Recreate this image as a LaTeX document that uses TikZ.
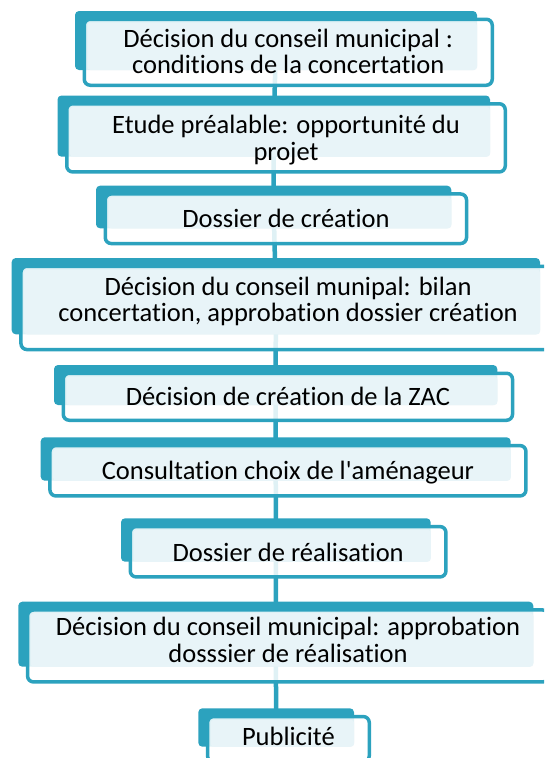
\documentclass[tikz,border=0pt]{standalone}
\usepackage{fontspec}
\setmainfont{Carlito}[Ligatures=CommonOff]
\definecolor{tealA}{RGB}{44,162,190}
\definecolor{lightfill}{RGB}{232,244,248}
\pgfdeclarelayer{bg}
\pgfsetlayers{bg,main}
\tikzset{
  tealrect/.style={rectangle, fill=tealA, draw=none, rounded corners=4pt, inner sep=0pt, outer sep=0pt},
  outlinebox/.style={rectangle, draw=tealA, line width=3.5pt, fill=white, fill opacity=0.85, rounded corners=6pt, inner sep=0pt, outer sep=0pt},
  innerfill/.style={rectangle, fill=lightfill, draw=none, rounded corners=3pt, inner sep=0pt, outer sep=0pt},
  boxtext/.style={align=center, inner sep=0pt, anchor=base, text=black, font=\fontsize{26.5}{26.5}\selectfont},
  conn/.style={draw=tealA, line width=4.5pt},
}
% #6 = baseline of the last text line
\newcommand\flowbox[7]{%
  \node[tealrect, minimum width={(#4-#2)*1pt}, minimum height={(#5-#3)*1pt}] (t#1) at ({(#2+#4)/2},{(#3+#5)/2}) {};
  \node[outlinebox, minimum width={(#4-#2+6)*1pt}, minimum height={(#5-#3+7)*1pt}] (o#1) at ({(#2+#4)/2+12.25},{(#3+#5)/2+11.75}) {};
  \node[innerfill, minimum width={(#4-#2-12.5)*1pt}, minimum height={(#5-#3-11.5)*1pt}] (f#1) at ({(#2+#4+12.5)/2},{(#3+#5+11.5)/2}) {};
  \node[boxtext] (x#1) at ({(#2+#4)/2+12.25},#6) {#7};
}
\begin{document}
\begin{tikzpicture}[x=1pt,y=-1pt]
\useasboundingbox (0,0) rectangle (544,758);
\clip (0,0) rectangle (544,758);
\flowbox{1}{75}{11}{477}{70}{73.5}{Décision du conseil municipal :\\conditions de la concertation}
\flowbox{2}{57.5}{95.5}{490}{156.7}{160}{Etude préalable: opportunité du\\projet}
\flowbox{3}{96}{185.7}{451.3}{228.3}{227.9}{Dossier de création}
\flowbox{4}{11.7}{258}{540}{334.3}{321.7}{Décision du conseil munipal: bilan\\concertation, approbation dossier création}
\flowbox{5}{54}{365}{497.3}{405}{405.7}{Décision de création de la ZAC}
\flowbox{6}{40.7}{437.3}{510.7}{480.7}{479.3}{Consultation choix de l\textquotesingle aménageur}
\flowbox{7}{121}{518.3}{430.7}{561.7}{561.4}{Dossier de réalisation}
\flowbox{8}{18.3}{601.7}{533.3}{666.7}{662}{Décision du conseil municipal: approbation\\dosssier de réalisation}
\flowbox{9}{198.3}{708.3}{354}{746.7}{745}{Publicité}
\begin{pgfonlayer}{bg}
\draw[conn] (t1.center) -- (t2.center);
\draw[conn] (t2.center) -- (t3.center);
\draw[conn] (t3.center) -- (t4.center);
\draw[conn] (t4.center) -- (t5.center);
\draw[conn] (t5.center) -- (t6.center);
\draw[conn] (t6.center) -- (t7.center);
\draw[conn] (t7.center) -- (t8.center);
\draw[conn] (t8.center) -- (t9.center);
\end{pgfonlayer}
\end{tikzpicture}
\end{document}
